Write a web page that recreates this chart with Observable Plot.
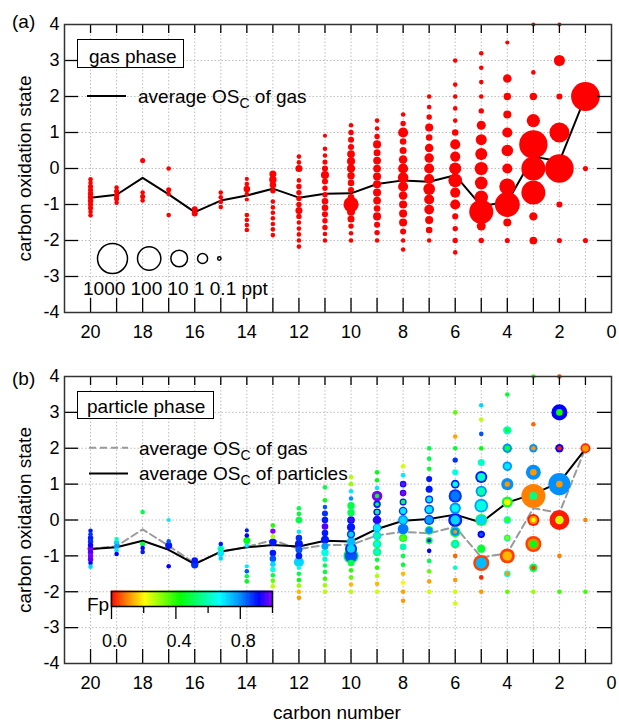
<!DOCTYPE html>
<html><head><meta charset="utf-8">
<script src="https://cdn.jsdelivr.net/npm/d3@7"></script>
<script src="https://cdn.jsdelivr.net/npm/@observablehq/plot@0.6"></script>
<style>
body{margin:0;background:#fff;}
#fig{position:relative;width:619px;height:722px;overflow:hidden;background:#fff;}
#fig > svg{position:absolute;}
</style></head><body><div id="fig"></div>
<script>
// ---------- data ----------
const carbonNumbers = [20,19,18,17,16,15,14,13,12,11,10,9,8,7,6,5,4,3,2,1];
const xTickLabels = [20,18,16,14,12,10,8,6,4,2,0];
const yTickLabels = [4,3,2,1,0,-1,-2,-3,-4];
const sizeLegendPpt = [1000,100,10,1,0.1];
const fpStops  = [0, 0.1, 0.21, 0.43, 0.675, 0.8, 0.92, 1.0];
const fpColors = ["#ff0000","#ff8000","#ffff00","#00ff00","#00ffff","#0090ff","#0000ff","#8000ff"];
const fpMajorTicks = [0, 0.4, 0.8];
const fpMinorTicks = [0.2, 0.6, 1.0];
const fpTickLabels = [0, 0.4, 0.8];

// average carbon oxidation state per carbon number (C20 ... C1)
const gasAvgOS      = [-0.81,-0.73,-0.26,-0.72,-1.21,-0.89,-0.75,-0.56,-0.81,-0.70,-0.69,-0.43,-0.33,-0.37,-0.19,-1.04,-0.93,0.33,0.20,2.00];
const particleAvgOS = [-0.81,-0.76,-0.58,-0.83,-1.23,-0.88,-0.76,-0.70,-0.74,-0.58,-0.60,-0.25,-0.02,0.03,0.15,-0.07,0.49,0.72,1.05,1.98];

// gas phase species: [OSc, mixing ratio in ppt]
const gas20 = [[-0.3,0.15],[-0.4,0.15],[-0.5,0.18],[-0.6,0.18],[-0.7,0.2],[-0.8,0.2],[-0.9,0.2],[-1.0,0.18],[-1.1,0.18],[-1.2,0.15],[-1.3,0.15]];
const gas19 = [[-0.53,0.15],[-0.63,0.18],[-0.74,0.2],[-0.84,0.18],[-0.95,0.15]];
const gas18 = [[0.22,0.18],[-0.67,0.15],[-0.78,0.18],[-0.89,0.15]];
const gas17 = [[0,0.15],[-0.59,0.18],[-0.71,0.15],[-1.29,0.15]];
const gas16 = [[-1.13,0.25],[-1.25,0.25]];
const gas15 = [[-0.67,0.15],[-0.8,0.15],[-0.93,0.15],[-1.07,0.15]];
const gas14 = [[-0.29,0.13],[-0.43,0.15],[-0.57,0.3],[-0.71,0.15],[-0.86,0.13],[-1.29,0.15],[-1.43,0.15],[-1.57,0.15],[-1.71,0.15]];
const gas13 = [[-0.15,0.35],[-0.31,0.4],[-0.46,0.3],[-0.62,0.2],[-0.92,0.15],[-1.08,0.15],[-1.23,0.15],[-1.38,0.15],[-1.54,0.15],[-1.69,0.15],[-1.85,0.15]];
const gas12 = [[0.33,0.15],[0.17,0.15],[0,0.35],[-0.33,0.15],[-0.5,0.2],[-0.67,0.2],[-0.83,0.2],[-1.0,0.2],[-1.17,0.35],[-1.33,0.2],[-1.5,0.15],[-1.67,0.15],[-1.83,0.15],[-2.0,0.15],[-2.17,0.15]];
const gas11 = [[0.91,0.13],[0.55,0.15],[0.36,0.15],[0.18,0.18],[0,0.25],[-0.18,0.5],[-0.36,0.25],[-0.55,0.2],[-0.73,0.2],[-0.91,0.3],[-1.09,0.3],[-1.27,0.25],[-1.45,0.2],[-1.64,0.2],[-1.82,0.15],[-2.0,0.15]];
const gas10 = [[1.2,0.15],[1.0,0.2],[0.8,0.25],[0.6,0.25],[0.4,0.45],[0.2,0.5],[0,0.5],[-0.2,0.4],[-0.4,0.3],[-0.6,0.25],[-0.8,0.3],[-1.0,6],[-1.2,0.5],[-1.4,0.35],[-1.6,0.2],[-1.8,0.15],[-2.0,0.15]];
const gas9  = [[1.33,0.15],[1.11,0.15],[0.89,0.2],[0.67,0.5],[0.44,0.35],[0.22,0.45],[0,0.45],[-0.22,0.5],[-0.44,0.5],[-0.67,0.5],[-0.89,0.45],[-1.11,0.3],[-1.33,0.5],[-1.56,0.25],[-1.78,0.2],[-2.0,0.15]];
const gas8  = [[1.5,0.15],[1.25,0.2],[1.0,1.0],[0.75,0.3],[0.5,0.35],[0.25,0.6],[0,1.0],[-0.25,1.2],[-0.5,1.0],[-0.75,0.6],[-1.0,0.5],[-1.25,0.5],[-1.5,0.5],[-1.75,0.25],[-2.0,0.15],[-2.25,0.15]];
const gas7  = [[2.0,0.15],[1.71,0.15],[1.43,0.2],[1.14,0.5],[0.86,0.3],[0.57,0.6],[0.29,0.8],[0,1.0],[-0.29,1.0],[-0.57,1.8],[-0.86,1.0],[-1.14,0.9],[-1.43,0.5],[-1.71,0.3],[-2.0,0.15]];
const gas6  = [[3.0,0.15],[2.33,0.15],[2.0,0.15],[1.67,0.15],[1.33,0.15],[1.0,0.3],[0.67,1.0],[0.33,1.0],[0,2.0],[-0.33,3.5],[-0.67,1.0],[-1.0,1.0],[-1.33,0.25],[-1.67,0.2],[-2.0,0.2],[-2.33,0.15]];
const gas5  = [[3.2,0.15],[2.8,0.15],[2.4,0.15],[2.0,0.15],[1.6,0.2],[1.2,0.7],[0.8,1.4],[0.4,2.0],[0,3.0],[-0.4,2.5],[-0.8,3.2],[-1.2,130],[-1.6,0.7],[-2.0,0.2]];
const gas4  = [[3.5,0.13],[2.5,0.6],[2.0,0.4],[1.5,0.5],[1.0,1.0],[0.5,1.7],[0,1.0],[-0.5,8],[-1.0,170],[-1.5,0.5],[-2.0,0.18]];
const gas3  = [[4.0,0.13],[2.67,0.15],[2.0,0.4],[1.33,3],[0.67,560],[0,125],[-0.67,125],[-1.33,0.55],[-2.0,0.45]];
const gas2  = [[4.0,0.13],[3.0,1.4],[2.0,0.25],[1.0,31],[0,600],[-1.0,0.25],[-2.0,0.18]];
const gas1  = [[2.0,650],[0,0.18],[-2.0,0.18]];

// particle phase species: [OSc, mixing ratio in ppt, Fp]
const part20 = [[-0.3,0.15,0.9],[-0.4,0.15,0.88],[-0.5,0.2,0.9],[-0.6,0.2,0.88],[-0.7,0.2,0.93],[-0.8,0.25,1.0],[-0.9,0.2,0.97],[-1.0,0.2,1.0],[-1.1,0.2,0.98],[-1.2,0.15,0.92],[-1.3,0.15,0.72]];
const part19 = [[-0.53,0.15,0.62],[-0.63,0.2,0.72],[-0.74,0.2,0.78],[-0.84,0.15,0.7],[-0.95,0.15,0.92]];
const part18 = [[0.22,0.15,0.5],[-0.67,0.18,0.48],[-0.78,0.15,0.92],[-0.89,0.15,0.9]];
const part17 = [[0,0.12,0.7],[-0.59,0.15,0.85],[-0.71,0.35,0.9],[-1.29,0.15,0.92]];
const part16 = [[-1.13,0.3,0.9],[-1.25,0.4,0.88]];
const part15 = [[-0.67,0.15,0.9],[-0.8,0.3,0.68],[-0.8,0.12,0.55],[-0.93,0.3,0.7],[-1.07,0.15,0.72]];
const part14 = [[-0.29,0.13,0.9],[-0.43,0.15,0.92],[-0.57,0.35,0.45],[-0.71,0.15,0.7],[-1.29,0.13,0.7],[-1.43,0.15,0.85],[-1.57,0.15,0.5],[-1.71,0.15,0.45]];
const part13 = [[-0.15,0.15,0.4],[-0.31,0.2,1.0],[-0.46,0.15,0.28],[-0.62,0.4,0.9],[-0.92,0.3,0.9],[-1.08,0.3,0.85],[-1.23,0.2,0.72],[-1.38,0.2,0.65],[-1.54,0.15,0.5],[-1.69,0.15,0.35],[-1.85,0.15,0.27]];
const part12 = [[0.33,0.15,0.5],[0.17,0.15,0.48],[0,0.3,0.5],[-0.33,0.15,0.7],[-0.5,0.3,0.88],[-0.67,0.5,0.9],[-0.83,0.35,0.85],[-1.0,0.3,0.9],[-1.17,1.0,0.72],[-1.33,0.15,0.65],[-1.5,0.15,0.5],[-1.67,0.15,0.45],[-1.83,0.15,0.3],[-2.0,0.15,0.15],[-2.17,0.15,0.12]];
const part11 = [[0.91,0.15,0.5],[0.55,0.15,0.45],[0.36,0.15,0.85],[0.18,0.25,0.88],[0,0.3,0.9],[-0.18,0.3,0.97],[-0.36,0.3,0.9],[-0.55,0.5,0.9],[-0.73,0.35,0.78],[-0.91,0.4,0.65],[-1.09,0.2,0.62],[-1.27,0.15,0.5],[-1.45,0.15,0.48],[-1.64,0.15,0.38],[-1.82,0.15,0.3],[-2.0,0.15,0.27]];
const part10 = [[1.2,0.15,0.28],[1.0,0.15,0.3],[0.8,0.15,0.7],[0.6,0.15,0.8],[0.4,0.4,0.5],[0.2,0.4,0.5],[0,0.45,0.9],[0,0.15,0.97],[-0.2,0.5,0.9],[-0.4,0.5,0.88],[-0.4,0.2,0.72],[-0.6,0.6,0.75],[-0.8,2,0.88],[-0.8,0.5,0.72],[-1.0,6,0.48],[-1.0,2.5,0.85],[-1.2,0.3,0.5],[-1.4,0.15,0.4],[-1.6,0.15,0.35],[-1.8,0.15,0.15],[-2.0,0.15,0.27]];
const part9  = [[1.33,0.15,0.45],[1.11,0.15,0.45],[0.89,0.15,0.7],[0.67,1.2,1.0],[0.67,0.15,0.45],[0.44,0.4,0.9],[0.44,0.12,0.5],[0.22,0.4,0.92],[0.22,0.15,0.55],[0,0.6,0.9],[0,0.3,0.95],[-0.22,0.6,0.8],[-0.22,0.3,0.7],[-0.44,0.6,0.72],[-0.44,0.25,0.6],[-0.67,0.6,0.52],[-0.67,0.25,0.65],[-0.89,0.5,0.5],[-0.89,0.2,0.65],[-1.11,0.15,0.5],[-1.33,0.15,0.4],[-1.56,0.15,0.28],[-1.78,0.15,0.15],[-2.0,0.15,0.25]];
const part8  = [[1.5,0.15,0.25],[1.25,0.15,0.7],[1.0,0.3,0.9],[1.0,0.12,1.0],[0.75,0.3,0.95],[0.75,0.15,1.0],[0.5,0.35,0.9],[0.5,0.15,0.5],[0.25,0.6,0.88],[0.25,0.25,0.7],[0,1.0,0.8],[0,0.35,0.72],[-0.25,1.3,0.82],[-0.5,0.5,0.5],[-0.5,0.2,0.35],[-0.75,0.3,0.6],[-1.0,0.15,0.5],[-1.25,0.15,0.48],[-1.5,0.15,0.15],[-1.75,0.15,0.22],[-2.0,0.15,0.13],[-2.25,0.15,0.12]];
const part7  = [[2.0,0.15,0.5],[1.71,0.15,0.5],[1.43,0.15,0.47],[1.14,0.25,0.9],[0.86,0.35,0.9],[0.57,0.5,0.88],[0.57,0.2,0.7],[0.29,0.9,0.85],[0.29,0.3,0.7],[0,1.0,0.88],[0,0.4,0.78],[-0.29,0.6,0.5],[-0.29,0.3,0.8],[-0.57,0.35,0.5],[-0.57,0.12,0.9],[-0.86,0.15,0.92],[-1.14,0.15,0.5],[-1.43,0.15,0.35],[-1.71,0.15,0.13],[-2.0,0.15,0.25]];
const part6  = [[3.0,0.15,0.35],[2.33,0.15,0.13],[2.0,0.15,0.48],[1.67,0.2,0.88],[1.33,0.25,0.65],[1.0,0.6,0.9],[1.0,0.2,0.68],[0.67,3,0.88],[0.67,0.8,0.82],[0.33,1.5,0.8],[0.33,0.4,0.68],[0,4,0.9],[0,0.8,0.72],[-0.33,1.2,0.48],[-0.33,0.5,0.8],[-0.33,0.12,0.12],[-0.67,0.6,0.5],[-0.67,0.2,0.65],[-1.0,0.15,0.08],[-1.33,0.15,0.62],[-1.67,0.15,0.12],[-2.0,0.15,0.25],[-2.33,0.15,0.25]];
const part5  = [[3.2,0.15,0.72],[2.8,0.15,0.27],[2.4,0.15,0.85],[2.0,0.15,0.45],[1.6,0.35,0.62],[1.2,2,0.9],[1.2,0.5,0.62],[0.8,1.5,0.8],[0.8,0.45,0.6],[0.4,3.5,0.78],[0.4,1,0.65],[0,2,0.48],[0,0.9,0.72],[-0.4,0.4,0.92],[-0.4,0.12,0.85],[-0.8,0.55,0.48],[-1.2,8,0.05],[-1.2,1.5,0.75],[-1.6,0.15,0.03],[-2.0,0.15,0.12]];
const part4  = [[3.5,0.15,0.48],[2.5,0.55,0.62],[2.5,0.15,0.48],[2.0,0.8,0.8],[2.0,0.2,0.5],[1.5,0.8,0.8],[1.5,0.25,0.7],[1.0,2,0.8],[1.0,0.2,0.12],[0.5,1.4,0.48],[0.5,0.3,0.2],[0,0.4,0.62],[0,0.15,0.38],[-0.5,0.3,0.55],[-0.5,0.12,0.3],[-1.0,5.5,0.05],[-1.0,0.8,0.15],[-1.5,0.3,0.62],[-1.5,0.13,0.12],[-2.0,0.15,0.35]];
const part3  = [[4.0,0.15,0.38],[2.67,0.15,0.08],[2.0,0.55,0.8],[2.0,0.15,0.12],[1.33,5.5,0.8],[1.33,0.3,0.12],[0.67,125,0.1],[0.67,0.5,0.55],[0,2,0.02],[0,0.5,0.12],[0,0.15,0.22],[-0.67,8,0.05],[-0.67,1.5,0.1],[-0.67,0.4,0.45],[-1.33,0.55,0.5],[-1.33,0.15,0.05],[-2.0,0.15,0.3]];
const part2  = [[4.0,0.15,0.05],[3.0,8,0.92],[3.0,0.3,0.42],[2.0,0.55,0.92],[2.0,0.15,0.02],[1.0,63,0.8],[1.0,0.3,0.12],[0,31,0.02],[0,0.6,0.25],[-1.0,0.15,0.1],[-2.0,0.15,0.38]];
const part1  = [[2.0,1.0,0.03],[2.0,0.3,0.12],[0,0.15,0.1],[-2.0,0.15,0.38]];

// ---------- tables built from the arrays ----------
const gasLists  = [gas20,gas19,gas18,gas17,gas16,gas15,gas14,gas13,gas12,gas11,gas10,gas9,gas8,gas7,gas6,gas5,gas4,gas3,gas2,gas1];
const partLists = [part20,part19,part18,part17,part16,part15,part14,part13,part12,part11,part10,part9,part8,part7,part6,part5,part4,part3,part2,part1];
const gasTable  = carbonNumbers.flatMap((c,i) => gasLists[i].map(([os,ppt]) => ({c, os, ppt}))).sort((a,b) => b.ppt - a.ppt);
const partTable = carbonNumbers.flatMap((c,i) => partLists[i].map(([os,ppt,fp]) => ({c, os, ppt, fp}))).sort((a,b) => b.ppt - a.ppt);
const avgTable  = carbonNumbers.map((c,i) => ({c, gas: gasAvgOS[i], part: particleAvgOS[i]}));

// ---------- styles ----------
const FONT = '"Liberation Sans", Arial, Helvetica, sans-serif';
const rOpts = {type: "log", domain: [0.1, 1000], range: [1.7, 15]};
const colorOpts = {type: "linear", domain: fpStops, range: fpColors, interpolate: "rgb"};
const gridStyle = {stroke: "#bdbdbd", strokeOpacity: 1, strokeWidth: 1, strokeDasharray: "1.5,2"};
const W = 619, ML = 64, MR = 8;
const xGrid = d3.range(1, 21);
const yGrid = d3.range(-3, 4);

function frameMarks(innerH) {
  const innerW = W - ML - MR;
  return [
    Plot.ruleX(xGrid, {stroke: "black", strokeWidth: 1.3, insetTop: innerH - 14}),
    Plot.ruleX(xGrid, {stroke: "black", strokeWidth: 1.3, insetBottom: innerH - 9}),
    Plot.ruleY(yGrid, {stroke: "black", strokeWidth: 1.3, insetRight: innerW - 14}),
    Plot.ruleY(yGrid, {stroke: "black", strokeWidth: 1.3, insetLeft: innerW - 14}),
    Plot.axisX(xTickLabels, {tickSize: 0, tickPadding: 13, fontSize: 18, label: null, tickFormat: d => String(d)}),
    Plot.axisY(yTickLabels, {tickSize: 0, tickPadding: 5, fontSize: 18, label: null, tickFormat: d => String(d)}),
    Plot.frame({stroke: "#333", strokeWidth: 1.5}),
    Plot.text(["carbon oxidation state"], {frameAnchor: "left", textAnchor: "middle", lineAnchor: "middle", rotate: -90, dx: -40, fontSize: 19, fill: "black"})
  ];
}

const fig = document.getElementById("fig");
function place(el, left, top) { el.style.left = left + "px"; el.style.top = top + "px"; el.style.position = "absolute"; fig.appendChild(el); return el; }

// ---------- panel (a) ----------
const hA = 345, mtA = 24, mbA = 33;
place(Plot.plot({
  width: W, height: hA, marginTop: mtA, marginBottom: mbA, marginLeft: ML, marginRight: MR,
  style: {fontFamily: FONT, fontSize: "18px", background: "transparent", color: "black"},
  x: {domain: [21, 0], label: null},
  y: {domain: [-4, 4], label: null},
  r: rOpts,
  marks: [
    Plot.gridX(xGrid, gridStyle),
    Plot.gridY(yGrid, gridStyle),
    Plot.line(avgTable, {x: "c", y: "gas", stroke: "black", strokeWidth: 2}),
    Plot.dot(gasTable, {x: "c", y: "os", r: "ppt", fill: "#ff0000"}),
    ...frameMarks(hA - mtA - mbA)
  ]
}), 0, 0);

// ---------- panel (b) ----------
const hB = 372, mtB = 26, mbB = 59;
place(Plot.plot({
  width: W, height: hB, marginTop: mtB, marginBottom: mbB, marginLeft: ML, marginRight: MR,
  style: {fontFamily: FONT, fontSize: "18px", background: "transparent", color: "black"},
  x: {domain: [21, 0], label: null},
  y: {domain: [-4, 4], label: null},
  r: rOpts,
  color: colorOpts,
  marks: [
    Plot.gridX(xGrid, gridStyle),
    Plot.gridY(yGrid, gridStyle),
    Plot.line(avgTable, {x: "c", y: "gas", stroke: "#9a9a9a", strokeWidth: 2, strokeDasharray: "7,4"}),
    Plot.line(avgTable, {x: "c", y: "part", stroke: "black", strokeWidth: 2}),
    Plot.dot(partTable, {x: "c", y: "os", r: "ppt", fill: "fp"}),
    ...frameMarks(hB - mtB - mbB)
  ]
}), 0, 350);

// ---------- size legend (panel a) ----------
const rScale = Plot.scale({r: rOpts});
const legendGap = 10;
const sizeLegendTable = [];
sizeLegendPpt.forEach((v, i) => {
  const r = rScale.apply(v);
  const prev = sizeLegendTable[i - 1];
  const px = prev ? prev.px + prev.r + r + legendGap : r + 7;
  sizeLegendTable.push({v, r, px});
});
place(Plot.plot({
  width: 160, height: 36, margin: 0, axis: null,
  style: {background: "transparent"},
  x: {type: "identity", axis: null},
  r: rOpts,
  marks: [Plot.dot(sizeLegendTable, {x: "px", r: "v", stroke: "black", strokeWidth: 1.5, fill: "none"})]
}), 90, 240);

// ---------- Fp colour bar (panel b) ----------
const fpStep = 0.005;
const fpCells = d3.range(0, 1, fpStep);
place(Plot.plot({
  width: 200, height: 66, marginTop: 6, marginBottom: 45, marginLeft: 31, marginRight: 8,
  style: {fontFamily: FONT, fontSize: "18px", background: "transparent", color: "black"},
  x: {domain: [0, 1], label: null},
  color: colorOpts,
  marks: [
    Plot.rect(fpCells, {x1: d => d, x2: d => Math.min(1, d + fpStep), fill: d => d + fpStep / 2, stroke: d => d + fpStep / 2, strokeWidth: 0.6}),
    Plot.frame({stroke: "black", strokeWidth: 1.5}),
    Plot.axisX(fpMajorTicks, {tickSize: 13, tickFormat: () => "", strokeWidth: 1.3, label: null}),
    Plot.axisX(fpMinorTicks, {tickSize: 7, tickFormat: () => "", strokeWidth: 1.3, label: null}),
    Plot.axisX(fpTickLabels, {tickSize: 0, tickPadding: 28, dx: 3, fontSize: 18, label: null, tickFormat: d3.format(".1f")})
  ]
}), 80, 585);

// ---------- text, boxes and line keys ----------
const ns = "http://www.w3.org/2000/svg";
const ov = document.createElementNS(ns, "svg");
ov.setAttribute("width", W); ov.setAttribute("height", 722);
ov.style.pointerEvents = "none";
ov.setAttribute("font-family", FONT);
ov.setAttribute("font-size", "19");
ov.innerHTML = `
  <text x="12" y="28">(a)</text>
  <rect x="77.5" y="39.5" width="106" height="28" fill="white" stroke="black" stroke-width="1"/>
  <text x="89" y="62.5">gas phase</text>
  <line x1="87" x2="126" y1="96" y2="96" stroke="black" stroke-width="2"/>
  <text x="138" y="103.3">average OS<tspan font-size="14" dy="5">C</tspan><tspan dy="-5"> of gas</tspan></text>
  <text x="83" y="295">1000 100 10 1 0.1 ppt</text>
  <text x="12" y="385">(b)</text>
  <rect x="77.5" y="391.5" width="136" height="27" fill="white" stroke="black" stroke-width="1"/>
  <text x="87" y="413">particle phase</text>
  <line x1="89" x2="128" y1="447.7" y2="447.7" stroke="#9a9a9a" stroke-width="2" stroke-dasharray="7,4"/>
  <text x="139" y="455">average OS<tspan font-size="14" dy="5">C</tspan><tspan dy="-5"> of gas</tspan></text>
  <line x1="89" x2="128" y1="473.5" y2="473.5" stroke="black" stroke-width="2"/>
  <text x="139" y="480">average OS<tspan font-size="14" dy="5">C</tspan><tspan dy="-5"> of particles</tspan></text>
  <text x="87" y="611">Fp</text>
  <text x="337" y="719" text-anchor="middle">carbon number</text>
`;
place(ov, 0, 0);
</script></body></html>
